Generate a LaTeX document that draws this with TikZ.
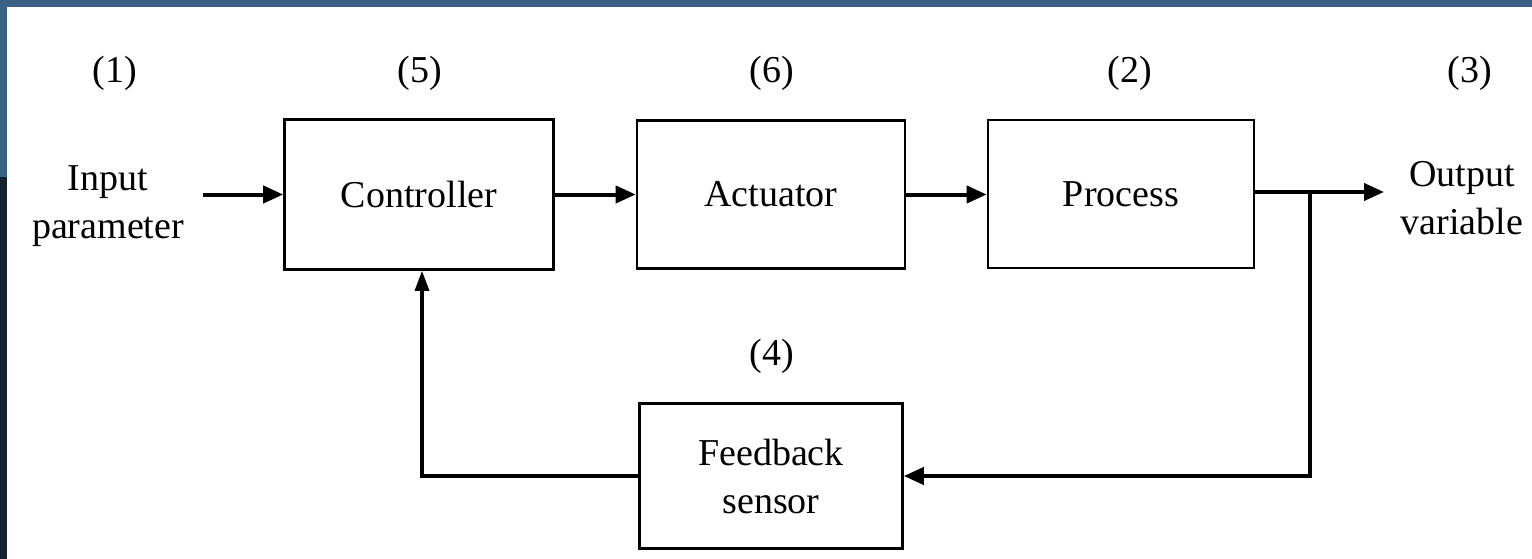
\documentclass[tikz,border=0pt]{standalone}
\usepackage{fontspec}
\setmainfont{Liberation Serif}
\usetikzlibrary{arrows.meta}
\definecolor{bandblue}{HTML}{3B6286}
\definecolor{bandnavy}{HTML}{13202F}
\tikzset{
  blockbox/.style={draw=black, line width=2.6pt, minimum width=#1, minimum height=148pt, inner sep=0pt, font=\fontsize{38}{48}\selectfont, align=center},
  lbl/.style={font=\fontsize{38}{48}\selectfont, inner sep=0pt, align=center},
  flow/.style={line width=4pt, -{Triangle[length=20pt,width=17pt]}},
  fline/.style={line width=3.2pt}
}
\begin{document}
\begin{tikzpicture}[x=1pt,y=-1pt]
\useasboundingbox (0,0) rectangle (1532,559);
\fill[white] (0,0) rectangle (1532,559);
\fill[bandblue] (0,0) rectangle (1532,7);
\fill[bandblue] (0,0) rectangle (7,177);
\fill[bandnavy] (0,177) rectangle (7,559);

\node[blockbox=269pt, minimum height=150pt] (ctrl) at (419,194.5) {Controller};
\node[blockbox=268pt] (act) at (771,194.5) {Actuator};
\node[blockbox=266pt] (proc) at (1121,194) {Process};
\node[blockbox=263pt, minimum height=145pt] (fb) at (771,476) {Feedback\\sensor};

\node[lbl] (n1) at (115,73) {(1)};
\node[lbl] (n5) at (420,73) {(5)};
\node[lbl] (n6) at (772,73) {(6)};
\node[lbl] (n2) at (1130,73) {(2)};
\node[lbl] (n3) at (1470,73) {(3)};
\node[lbl] (n4) at (772,356) {(4)};

\node[lbl] (inp) at (108,206) {Input\\parameter};
\node[lbl] (outp) at (1462,198) {Output\\variable};

\coordinate (instart) at (203,194.5);
\coordinate (outtip) at (1384,192);
\coordinate (br) at (1310,192);

\draw[flow] (instart) -- (ctrl.west);
\draw[flow] (ctrl.east) -- (act.west);
\draw[flow] (act.east) -- (proc.west |- act.east);
\draw[flow] (proc.east |- br) -- (outtip);
\draw[flow] (br) |- (fb.east);
\draw[fline, -{Triangle[length=20pt,width=14pt]}] (fb.west) -| ([xshift=3pt]ctrl.south);
\end{tikzpicture}
\end{document}
